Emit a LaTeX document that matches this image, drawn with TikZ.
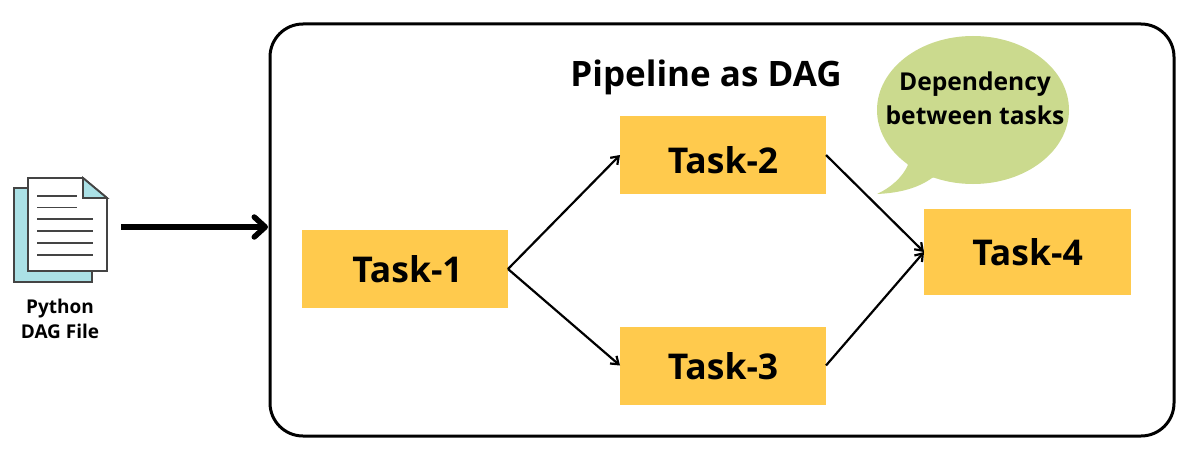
\documentclass[tikz,border=0pt]{standalone}
\usepackage{fontspec}
\setmainfont{Open Sans}
\usetikzlibrary{calc,arrows.meta,shapes.geometric}
\definecolor{taskcol}{HTML}{FFCA4D}
\definecolor{bubblecol}{HTML}{CBDA8E}
\definecolor{sheetcol}{HTML}{ABE1E6}
\definecolor{sheetline}{HTML}{444444}
\begin{document}
\begin{tikzpicture}[x=1pt,y=-1pt]
\tikzset{every node/.style={align=center, inner sep=0pt, outer sep=0pt, font=\bfseries}}
\tikzset{task/.style={fill=taskcol, minimum width=206pt, minimum height=78pt, font=\fontsize{35.5}{40}\bfseries}}
\tikzset{link/.style={line width=2.2pt, -{Straight Barb[length=7pt,width=10pt]}}}
\tikzset{sheet/.style={draw=sheetline, line width=1.8pt, line join=miter}}
\tikzset{textline/.style={draw=sheetline, line width=1.6pt}}
\useasboundingbox (0,0) rectangle (1196,460);
%%%%%%% pipeline frame
\node(frame)at(722,230)[draw=black,line width=3pt,rounded corners=33pt,minimum width=904pt,minimum height=412pt]{};
\node(title)at(706,77)[font=\fontsize{35}{40}\bfseries]{Pipeline as DAG};

%%%%%%% tasks
\node(task1)at(405,269)[task]{\hspace*{5pt}Task-1};
\node(task2)at(723,155)[task,text height=37pt,text depth=0pt]{Task-2};
\node(task3)at(723,365.5)[task,text height=27.5pt,text depth=0pt]{Task-3};
\node(task4)at(1027.5,252)[task,minimum width=207pt,minimum height=86pt]{Task-4};

%%%%%%% speech bubble
\node(bubble)at(973,110)[ellipse,fill=bubblecol,minimum width=192pt,minimum height=148pt]{};
\coordinate(tip)at(877,194);
\fill[bubblecol] ($(bubble.center)+(-68,50)$) -- (908,165) .. controls (902,178) and (890,188) .. (tip) .. controls (900,193) and (918,188) .. (932,178) -- ($(bubble.center)+(-20,60)$) -- cycle;
\node(dep)at(975,98)[font=\fontsize{24.6}{34}\bfseries]{Dependency\\between tasks};

%%%%%%% python file
\draw[sheet,fill=sheetcol] (14,188) rectangle (92,282);
\draw[sheet,fill=white] (28,178) -- (83,178) -- (107,198) -- (107,271) -- (28,271) -- cycle;
\draw[sheet,fill=sheetcol] (83,178) -- (107,198) -- (83,198) -- cycle;
\draw[textline] (37,196) -- (77,196);
\draw[textline] (37,207.5) -- (77,207.5);
\draw[textline] (37,219) -- (93,219);
\draw[textline] (37,231) -- (93,231);
\draw[textline] (37,243) -- (93,243);
\draw[textline] (37,255) -- (93,255);
\node(pyfile)at(60,318.5)[font=\fontsize{19}{25}\bfseries]{Python\\DAG File};

%%%%%%%
\coordinate(filearrow)at(121,227);
\draw[line width=5.5pt,shorten >=2pt,-{Straight Barb[round,length=11pt,width=20pt]}] (filearrow) -- (frame.west |- filearrow);
\draw[link] (task1.east) -- (task2.west);
\draw[link] (task1.east) -- (task3.west);
\draw[link] (task2.east) -- (task4.west);
\draw[link] (task3.east) -- (task4.west);
\end{tikzpicture}
\end{document}
